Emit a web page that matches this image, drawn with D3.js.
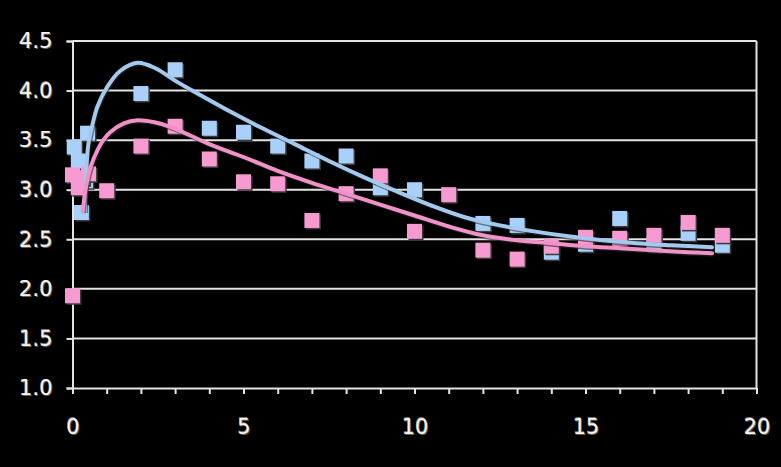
<!DOCTYPE html>
<html><head><meta charset="utf-8">
<script src="https://cdn.jsdelivr.net/npm/d3@7"></script>
<style>
html,body{margin:0;padding:0;background:#000;}
svg{display:block;}
.lbl{font-family:"DejaVu Sans",sans-serif;font-size:21px;fill:#f6f3ee;}
</style></head>
<body>
<svg id="chart" width="781" height="467"></svg>
<script>
// Observed points
const blueX = [0.05, 0.17, 0.26, 0.38, 0.44, 2, 3, 4, 5, 6, 7, 8, 9, 10, 12, 13, 14, 15, 16, 17, 18, 19];
const blueY = [3.43, 3.29, 2.77, 3.09, 3.57, 3.97, 4.21, 3.62, 3.58, 3.44, 3.29, 3.34, 3.02, 3.00, 2.66, 2.64, 2.37, 2.45, 2.71, 2.45, 2.56, 2.44];
const pinkX = [0, 0, 0.17, 0.28, 0.47, 1, 2, 3, 4, 5, 6, 7, 8, 9, 10, 11, 12, 13, 14, 15, 16, 17, 18, 19];
const pinkY = [1.93, 3.15, 3.02, 3.12, 3.16, 2.99, 3.44, 3.64, 3.31, 3.08, 3.06, 2.69, 2.96, 3.14, 2.58, 2.95, 2.39, 2.30, 2.43, 2.52, 2.51, 2.54, 2.67, 2.54];
// Fitted curves
const blueCurveX = [0.36, 0.40, 0.46, 0.58, 0.73, 1.02, 1.4, 1.9, 2.4, 3.0, 3.5, 4.5, 5.5, 6.5, 7.5, 8.5, 9.5, 10.5, 11.5, 12.5, 13.5, 14.5, 15.5, 16.5, 17.5, 18.7];
const blueCurveY = [2.78, 3.15, 3.45, 3.65, 3.84, 4.04, 4.20, 4.28, 4.23, 4.10, 4.00, 3.81, 3.63, 3.46, 3.29, 3.13, 2.98, 2.84, 2.72, 2.64, 2.58, 2.53, 2.49, 2.46, 2.44, 2.42];
const pinkCurveX = [0.30, 0.38, 0.53, 0.73, 0.9, 1.1, 1.5, 1.9, 2.4, 2.9, 4, 5, 6, 7, 8, 9, 10, 11, 12, 13, 14, 15, 16, 17, 18, 18.7];
const pinkCurveY = [2.78, 3.00, 3.23, 3.40, 3.50, 3.58, 3.67, 3.70, 3.68, 3.63, 3.46, 3.33, 3.19, 3.07, 2.96, 2.85, 2.74, 2.63, 2.54, 2.49, 2.46, 2.43, 2.41, 2.39, 2.37, 2.36];
const xTickLabels = [0, 5, 10, 15, 20];
const yTickLabels = [1.0, 1.5, 2.0, 2.5, 3.0, 3.5, 4.0, 4.5];

const svg = d3.select("#chart");
const L = 72.5, R = 756.5, T = 41, B = 388;
const x = d3.scaleLinear().domain([0, 20]).range([L, R]);
const y = d3.scaleLinear().domain([1.0, 4.5]).range([B, T]);
const grid = "#e4e4e4";

// gridlines
svg.append("g").selectAll("line").data(yTickLabels.filter(v => v > 1)).join("line")
  .attr("x1", L).attr("x2", R).attr("y1", d => y(d)).attr("y2", d => y(d))
  .attr("stroke", grid).attr("stroke-width", 2);
// right border
svg.append("line").attr("x1", R).attr("x2", R).attr("y1", T).attr("y2", B)
  .attr("stroke", grid).attr("stroke-width", 2);

// y axis
const yAxis = svg.append("g").attr("transform", `translate(${L},0)`)
  .call(d3.axisLeft(y).tickValues(yTickLabels).tickSize(6).tickFormat(d3.format(".1f")).tickPadding(14));
yAxis.select(".domain").attr("stroke", grid).attr("stroke-width", 2);
yAxis.selectAll(".tick line").attr("stroke", grid).attr("stroke-width", 2);
yAxis.selectAll("text").attr("class", "lbl").attr("fill", null);

// x axis
const xAxis = svg.append("g").attr("transform", `translate(0,${B})`)
  .call(d3.axisBottom(x).tickValues(d3.range(0, 21)).tickSize(6).tickSizeOuter(0)
    .tickFormat(d => xTickLabels.includes(d) ? d : "").tickPadding(25));
xAxis.select(".domain").attr("stroke", grid).attr("stroke-width", 2);
xAxis.selectAll(".tick line").attr("stroke", grid).attr("stroke-width", 2);
xAxis.selectAll("text").attr("class", "lbl").attr("fill", null);

svg.selectAll(".lbl").style("text-shadow", "1px 1px 0 #6b5a4a, -0.5px -0.5px 0 #777");

const blueFill = "#a8d0f8", pinkFill = "#f79ad2";
const blueLine = "#a4c9ee", pinkLine = "#f091c8";
const S = 15;

function markers(xs, ys, fill) {
  const g = svg.append("g");
  const pts = xs.map((v, i) => [v, ys[i]]);
  g.selectAll("rect.sh").data(pts).join("rect")
    .attr("x", d => x(d[0]) - S / 2 + 1.5).attr("y", d => y(d[1]) - S / 2 + 1.5)
    .attr("width", S).attr("height", S).attr("fill", "#3a3a3a");
  g.selectAll("rect.m").data(pts).join("rect")
    .attr("x", d => x(d[0]) - S / 2).attr("y", d => y(d[1]) - S / 2)
    .attr("width", S).attr("height", S).attr("fill", fill);
}
markers(blueX, blueY, blueFill);
markers(pinkX, pinkY, pinkFill);

const line = d3.line().x(d => x(d[0])).y(d => y(d[1])).curve(d3.curveCatmullRom.alpha(0.5));
function curve(xs, ys, color) {
  const pts = xs.map((v, i) => [v, ys[i]]);
  svg.append("path").datum(pts).attr("d", line).attr("fill", "none")
    .attr("stroke", "#2a2a2a").attr("stroke-width", 4).attr("transform", "translate(1,1.5)").attr("opacity", 0.6);
  svg.append("path").datum(pts).attr("d", line).attr("fill", "none")
    .attr("stroke", color).attr("stroke-width", 4).attr("stroke-linecap", "round");
}
curve(blueCurveX, blueCurveY, blueLine);
curve(pinkCurveX, pinkCurveY, pinkLine);
</script>
</body></html>
